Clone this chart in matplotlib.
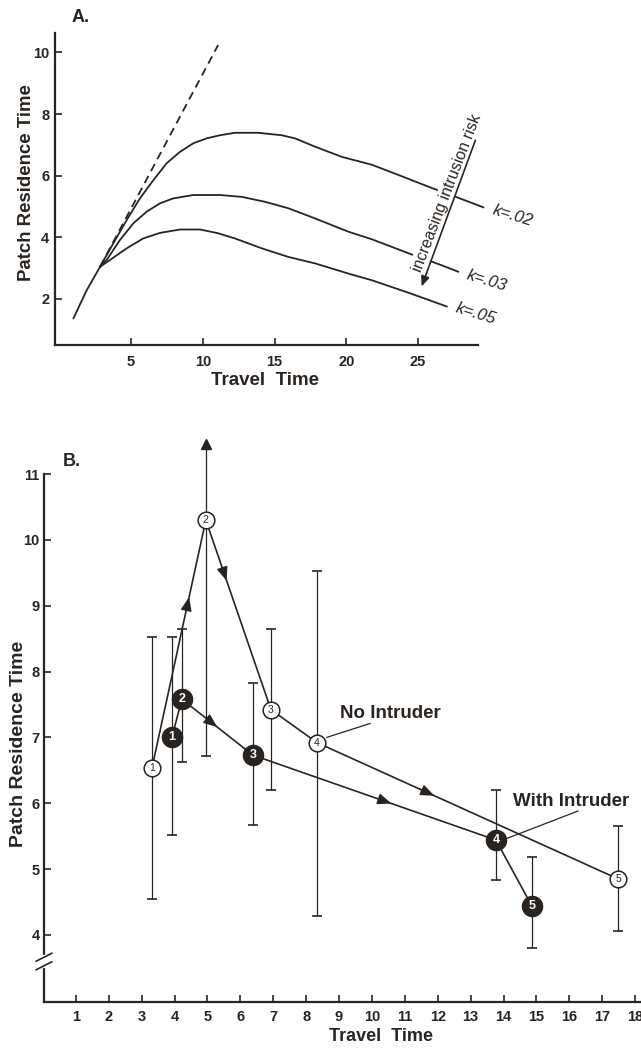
import matplotlib
matplotlib.use("Agg")
import matplotlib.pyplot as plt
import numpy as np

plt.rcParams['font.family'] = ['Liberation Sans', 'DejaVu Sans']

INK = '#2a2420'

# ---- panel A: model curves ----
shared_x = [0.98, 1.91, 2.84]
shared_y = [1.36, 2.28, 3.04]

k02_x = [2.84, 3.76, 4.70, 5.62, 6.55, 7.48, 8.41, 9.34, 10.27, 11.20, 12.24, 13.87,
         15.50, 16.42, 17.82, 19.68, 21.80, 23.97, 26.06, 27.92, 29.55]
k02_y = [3.04, 3.80, 4.56, 5.26, 5.85, 6.40, 6.77, 7.05, 7.21, 7.31, 7.39, 7.39,
         7.31, 7.21, 6.94, 6.61, 6.35, 5.96, 5.58, 5.26, 4.97]

k03_x = [2.84, 3.30, 4.23, 5.16, 6.09, 7.02, 7.94, 9.34, 11.20, 12.71, 14.33, 15.96,
         17.82, 20.14, 21.80, 24.67, 26.30, 27.80]
k03_y = [3.04, 3.26, 3.91, 4.45, 4.83, 5.10, 5.26, 5.37, 5.37, 5.31, 5.15, 4.94,
         4.61, 4.18, 3.93, 3.42, 3.15, 2.88]

k05_x = [2.84, 3.53, 4.70, 5.85, 7.02, 8.41, 9.81, 11.05, 12.24, 14.10, 15.96, 17.82,
         20.14, 21.80, 24.44, 27.00]
k05_y = [3.04, 3.26, 3.64, 3.96, 4.14, 4.25, 4.25, 4.13, 3.96, 3.64, 3.36, 3.15,
         2.82, 2.60, 2.18, 1.75]

dash_x = [2.84, 11.07]
dash_y = [3.04, 10.24]

curve_labels = ['k=.02', 'k=.03', 'k=.05']
curve_label_x = [31.6, 29.8, 29.0]
curve_label_y = [4.71, 2.60, 1.53]

# ---- panel B: observed means and error bars ----
open_x = [3.31, 4.95, 6.93, 8.33, 17.48]
open_y = [6.53, 10.30, 7.42, 6.92, 4.85]
open_lo = [4.55, 6.72, 6.20, 4.29, 4.06]
open_hi = [8.53, 11.45, 8.64, 9.52, 5.65]
open_arrow_top = [False, True, False, False, False]

fill_x = [3.92, 4.22, 6.38, 13.77, 14.86]
fill_y = [7.00, 7.58, 6.73, 5.44, 4.44]
fill_lo = [5.52, 6.62, 5.67, 4.83, 3.80]
fill_hi = [8.53, 8.65, 7.83, 6.20, 5.18]

# direction arrows: (segment index, fraction along segment)
open_dirs = [(0, 0.69), (1, 0.32), (3, 0.39)]
fill_dirs = [(1, 0.50), (2, 0.57)]

fig = plt.figure(figsize=(6.41, 10.48), dpi=100)
fig.patch.set_facecolor('white')

# ================= Panel A =================
axA = fig.add_axes([55 / 641, 1 - 345 / 1048, 423 / 641, 312 / 1048])
axA.set_xlim(-0.3, 29.18)
axA.set_ylim(0.5, 10.63)
for s in ['top', 'right']:
    axA.spines[s].set_visible(False)
for s in ['left', 'bottom']:
    axA.spines[s].set_color(INK)
    axA.spines[s].set_linewidth(1.6)

lw = 1.3
axA.plot(shared_x, shared_y, color=INK, lw=lw, solid_capstyle='round')
for xs, ys in [(k02_x, k02_y), (k03_x, k03_y), (k05_x, k05_y)]:
    axA.plot(xs, ys, color=INK, lw=lw, clip_on=False, zorder=2,
             solid_joinstyle='round')
axA.plot(dash_x, dash_y, color=INK, lw=1.3, ls=(0, (4.5, 3)), clip_on=False)

for lab, lx, ly in zip(curve_labels, curve_label_x, curve_label_y):
    axA.text(lx, ly, lab, fontsize=12, style='italic', color=INK, rotation=-17,
             ha='center', va='center', clip_on=False)

axA.annotate('', xy=(25.25, 2.40), xytext=(29.0, 7.15),
             arrowprops=dict(arrowstyle='-|>,head_length=0.6,head_width=0.25',
                             color=INK, lw=1.2, shrinkA=0, shrinkB=0),
             annotation_clip=False, zorder=5)
axA.text(27.0, 5.45, 'increasing intrusion risk', rotation=69, fontsize=11.5,
         color=INK, ha='center', va='center', rotation_mode='anchor', zorder=4,
         bbox=dict(boxstyle='square,pad=0.1', fc='white', ec='none'))

axA.set_xticks([5, 10, 15, 20, 25])
axA.set_yticks([2, 4, 6, 8, 10])
axA.tick_params(direction='in', length=5, width=1.2, color=INK, labelcolor=INK,
                labelsize=10.5)
axA.tick_params(axis='x', pad=7)
axA.tick_params(axis='y', pad=4)
for t in axA.get_xticklabels() + axA.get_yticklabels():
    t.set_fontweight('bold')
axA.set_xlabel('Travel  Time', fontsize=13.5, fontweight='bold', color=INK)
axA.set_ylabel('Patch Residence Time', fontsize=13.4, fontweight='bold', color=INK)
axA.xaxis.set_label_coords(0.497, -0.085)
axA.yaxis.set_label_coords(-0.047, 0.52)
fig.text(72 / 641, 1 - 18 / 1048, 'A.', fontsize=13, fontweight='bold', color=INK,
         ha='left', va='center')

# ================= Panel B =================
axB = fig.add_axes([44 / 641, 1 - 1002 / 1048, 597 / 641, 528 / 1048])
axB.set_xlim(0.03, 18.18)
axB.set_ylim(2.98, 11.0)
for s in ['top', 'right']:
    axB.spines[s].set_visible(False)
for s in ['left', 'bottom']:
    axB.spines[s].set_color(INK)
    axB.spines[s].set_linewidth(1.6)

# error bars
for xs, lo, hi in [(open_x, open_lo, open_hi), (fill_x, fill_lo, fill_hi)]:
    axB.vlines(xs, lo, hi, color=INK, lw=0.9, zorder=1, clip_on=False)
axB.plot(fill_x, fill_lo, ls='none', marker='_', ms=7, mew=1.2, color=INK, zorder=1)
axB.plot(fill_x, fill_hi, ls='none', marker='_', ms=7, mew=1.2, color=INK, zorder=1)
axB.plot(open_x, open_lo, ls='none', marker='_', ms=7, mew=1.2, color=INK, zorder=1)
cap_x = [x for x, a in zip(open_x, open_arrow_top) if not a]
cap_y = [y for y, a in zip(open_hi, open_arrow_top) if not a]
axB.plot(cap_x, cap_y, ls='none', marker='_', ms=7, mew=1.2, color=INK, zorder=1)
arr_x = [x for x, a in zip(open_x, open_arrow_top) if a]
arr_y = [y for y, a in zip(open_hi, open_arrow_top) if a]
axB.plot(arr_x, arr_y, ls='none', marker='^', ms=7, color=INK, clip_on=False, zorder=1)

# connecting lines
axB.plot(open_x, open_y, color=INK, lw=1.2, zorder=2)
axB.plot(fill_x, fill_y, color=INK, lw=1.2, zorder=2)


def dir_arrow(ax, xs, ys, i, t):
    x0, y0, x1, y1 = xs[i], ys[i], xs[i + 1], ys[i + 1]
    xm, ym = x0 + t * (x1 - x0), y0 + t * (y1 - y0)
    xb, yb = x0 + (t - 0.05) * (x1 - x0), y0 + (t - 0.05) * (y1 - y0)
    ax.annotate('', xy=(xm, ym), xytext=(xb, yb),
                arrowprops=dict(arrowstyle='-|>,head_length=0.7,head_width=0.28',
                                color=INK, lw=1.0, shrinkA=0, shrinkB=0,
                                mutation_scale=12), zorder=3)


for i, t in open_dirs:
    dir_arrow(axB, open_x, open_y, i, t)
for i, t in fill_dirs:
    dir_arrow(axB, fill_x, fill_y, i, t)

# markers with numbers
axB.plot(open_x, open_y, ls='none', marker='o', ms=12, mfc='white', mec=INK,
         mew=1.1, zorder=4)
axB.plot(fill_x, fill_y, ls='none', marker='o', ms=14.5, mfc=INK, mec=INK,
         zorder=4)
for n, (x, y) in enumerate(zip(open_x, open_y), start=1):
    axB.text(x, y, str(n), fontsize=7.5, color=INK, ha='center', va='center', zorder=5)
for n, (x, y) in enumerate(zip(fill_x, fill_y), start=1):
    axB.text(x, y, str(n), fontsize=9, fontweight='bold', color='white',
             ha='center', va='center', zorder=5)

# series labels with leader lines
axB.plot([8.63, 9.94], [7.0, 7.21], color=INK, lw=0.9, zorder=3)
axB.text(10.55, 7.36, 'No Intruder', fontsize=13.5, fontweight='bold', color=INK,
         ha='center', va='center')
axB.plot([14.13, 16.26], [5.47, 5.88], color=INK, lw=0.9, zorder=3)
axB.text(16.05, 6.02, 'With Intruder', fontsize=13.5, fontweight='bold', color=INK,
         ha='center', va='center')

# axis break marks on y axis
ytr = axB.get_yaxis_transform()
axB.plot([0, 0], [3.53, 3.66], color='white', lw=3, transform=ytr, clip_on=False,
         zorder=6)
axB.plot([-0.013, 0.013], [3.60, 3.72], color=INK, lw=1.2, transform=ytr,
         clip_on=False, zorder=7)
axB.plot([-0.013, 0.013], [3.47, 3.59], color=INK, lw=1.2, transform=ytr,
         clip_on=False, zorder=7)

axB.set_xticks(np.arange(1, 19))
axB.set_yticks(np.arange(4, 12))
axB.tick_params(direction='in', length=5, width=1.2, color=INK, labelcolor=INK,
                labelsize=10.5)
axB.tick_params(axis='x', pad=6)
axB.tick_params(axis='y', pad=3)
for t in axB.get_xticklabels() + axB.get_yticklabels():
    t.set_fontweight('bold')
axB.set_xlabel('Travel  Time', fontsize=13, fontweight='bold', color=INK)
axB.set_ylabel('Patch Residence Time', fontsize=14, fontweight='bold', color=INK)
axB.xaxis.set_label_coords(0.565, -0.05)
axB.yaxis.set_label_coords(-0.028, 0.489)
fig.text(63 / 641, 1 - 462 / 1048, 'B.', fontsize=13, fontweight='bold', color=INK,
         ha='left', va='center')

fig.savefig('out.png', dpi=100, facecolor='white')
